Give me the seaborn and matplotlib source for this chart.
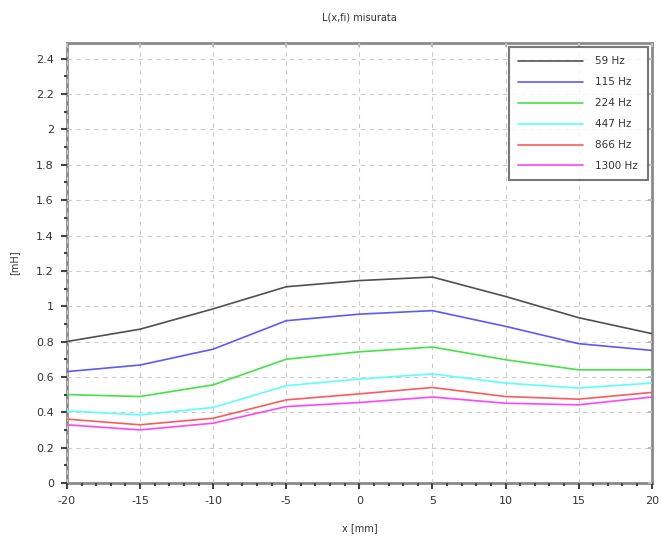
import pandas as pd
import matplotlib
matplotlib.use("Agg")
import matplotlib.pyplot as plt
from matplotlib import lines as mlines
from matplotlib.ticker import MultipleLocator
import seaborn as sns

sns.set_style("white", rc={"xtick.bottom": True, "ytick.left": True})
plt.rcParams['font.family'] = ['DejaVu Sans']

# data
x_mm = [-20, -15, -10, -5, 0, 5, 10, 15, 20]
y_ticks = [0, 0.2, 0.4, 0.6, 0.8, 1, 1.2, 1.4, 1.6, 1.8, 2, 2.2, 2.4]
y_labels = ["0", "0.2", "0.4", "0.6", "0.8", "1", "1.2", "1.4",
            "1.6", "1.8", "2", "2.2", "2.4"]
freqs = ["59 Hz", "115 Hz", "224 Hz", "447 Hz", "866 Hz", "1300 Hz"]
L_59 = [0.80, 0.87, 0.985, 1.11, 1.145, 1.165, 1.055, 0.935, 0.845]
L_115 = [0.63, 0.667, 0.757, 0.918, 0.955, 0.975, 0.886, 0.788, 0.75]
L_224 = [0.50, 0.489, 0.555, 0.70, 0.742, 0.769, 0.697, 0.64, 0.64]
L_447 = [0.408, 0.385, 0.427, 0.55, 0.588, 0.617, 0.565, 0.537, 0.565]
L_866 = [0.361, 0.329, 0.366, 0.47, 0.504, 0.54, 0.489, 0.474, 0.512]
L_1300 = [0.329, 0.30, 0.338, 0.432, 0.455, 0.486, 0.451, 0.442, 0.486]
colors = ["#505050", "#5a5aff", "#44e444", "#5cffff", "#ff5a5a", "#ff44ff"]

series = [L_59, L_115, L_224, L_447, L_866, L_1300]
rows = []
for f, vals in zip(freqs, series):
    for xv, yv in zip(x_mm, vals):
        rows.append({"x": xv, "L": yv, "freq": f})
df = pd.DataFrame(rows)

fig = plt.figure(figsize=(6.63, 5.36), dpi=100)
ax = fig.add_axes([0.101, 0.099, 0.882, 0.821])

sns.lineplot(data=df, x="x", y="L", hue="freq", hue_order=freqs,
             palette=colors, linewidth=1.2, ax=ax)

ax.set_xlim(-20, 20)
ax.set_ylim(0, 2.49)
ax.set_xticks(x_mm)
ax.set_xticklabels([str(v) for v in x_mm])
ax.set_yticks(y_ticks)
ax.set_yticklabels(y_labels)
ax.xaxis.set_minor_locator(MultipleLocator(1))
ax.yaxis.set_minor_locator(MultipleLocator(0.1))

ax.grid(True, which="major", linestyle=(0, (4, 4)), color="#cccccc", linewidth=0.8)
ax.tick_params(which="major", direction="out", length=4.5, width=1.5, color="#444444",
               labelsize=8, labelcolor="#333333", pad=5, bottom=True, left=True)
ax.tick_params(which="minor", direction="out", length=2.5, width=1.5, color="#444444",
               bottom=True, left=True)

# small inward ticks on the top and right border
ax.tick_params(which="major", top=True, right=True)
for t in ax.xaxis.get_major_ticks():
    t.tick2line.set_marker(mlines.TICKDOWN)
    t.tick2line.set_markeredgecolor("#bbbbbb")
    t.tick2line.set_markersize(3)
for t in ax.yaxis.get_major_ticks():
    t.tick2line.set_marker(mlines.TICKLEFT)
    t.tick2line.set_markeredgecolor("#bbbbbb")
    t.tick2line.set_markersize(3)

for sp in ax.spines.values():
    sp.set_color("#8a8a8a")
    sp.set_linewidth(2)
    sp.set_zorder(0.5)

ax.set_title("L(x,fi) misurata", fontsize=7, color="#333333", pad=16)
ax.set_xlabel("x [mm]", fontsize=7, color="#333333", labelpad=12)
ax.set_ylabel("[mH]", fontsize=7, color="#333333", labelpad=12)

leg = ax.legend(loc="upper right", fontsize=7.5, frameon=True, fancybox=False,
                borderaxespad=0.4, handlelength=6.2, handletextpad=1.2,
                labelspacing=1.05, borderpad=0.9)
leg.get_frame().set_edgecolor("#555555")
leg.get_frame().set_linewidth(1.5)
for t in leg.get_texts():
    t.set_color("#333333")

plt.savefig("out.png", dpi=100)
